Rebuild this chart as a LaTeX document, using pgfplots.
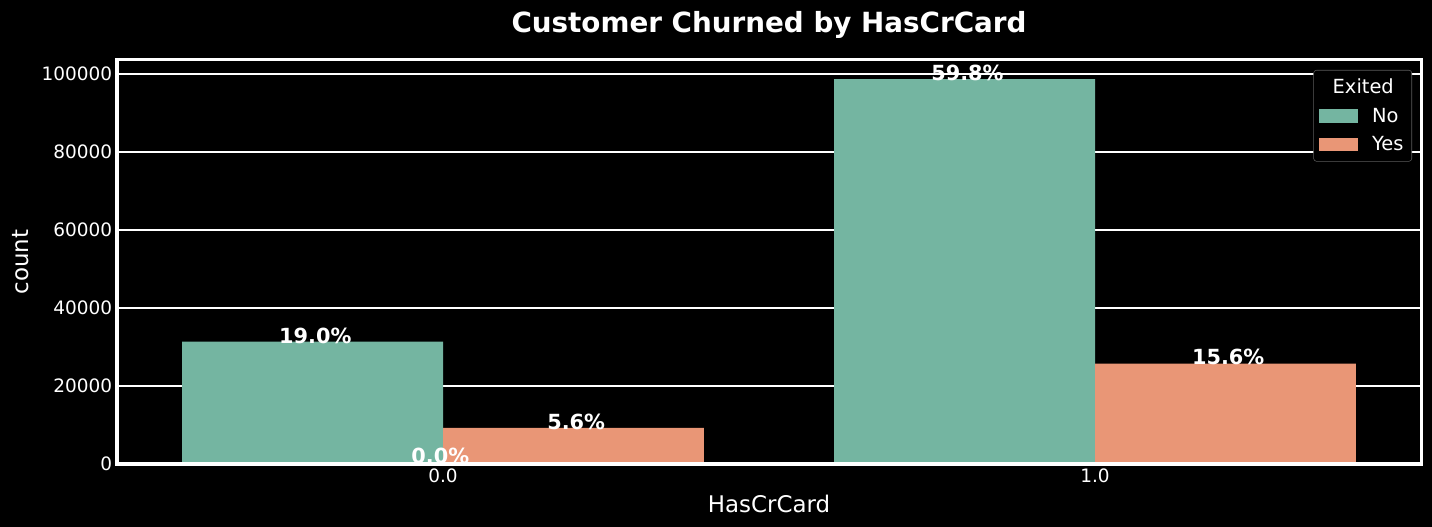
\documentclass[border=0pt]{standalone}
\usepackage{pgfplots}
\pgfplotsset{compat=1.18}
\usepackage{fontspec}
\setmainfont{DejaVu Sans}
\definecolor{setgreen}{HTML}{74B5A1}
\definecolor{setorange}{HTML}{E99676}
\definecolor{legframe}{HTML}{5A5A5A}

\begin{document}
\begin{tikzpicture}
% black page, sized like the reference (1px = 0.72pt)
\path[use as bounding box, fill=black] (-84.24pt,-45.36pt) rectangle (946.8pt,334.08pt);
\begin{axis}[
    scale only axis,
    width=938.9pt, height=290.9pt,
    xmin=-0.5, xmax=1.5,
    ymin=0, ymax=103600,
    xtick={0,1}, xticklabels={0.0,1.0},
    ytick={0,20000,40000,60000,80000,100000},
    scaled y ticks=false,
    /pgf/number format/fixed,
    /pgf/number format/1000 sep={},
    /pgf/number format/assume math mode=true,
    tick label style={font=\fontsize{13.3}{15}\selectfont, text=white},
    major tick length=0pt,
    ymajorgrids,
    grid style={white, line width=0.8pt},
    axis line style={white, line width=2.2pt},
    ybar, bar width=0.4,
    title={Customer Churned by HasCrCard},
    title style={font=\bfseries\fontsize{20}{24}\selectfont, text=white,
        at={(0.5,1)}, anchor=base, yshift=13.6pt},
    xlabel={HasCrCard}, ylabel={count},
    label style={font=\fontsize{16.5}{20}\selectfont, text=white},
    xlabel style={at={(axis description cs:0.5,0)}, anchor=base, yshift=-34.6pt},
    ylabel style={at={(axis description cs:-0.0682,0.5)}, anchor=base},
    nodes near coords,
    point meta=explicit symbolic,
    every node near coord/.append style={font=\bfseries\fontsize{15}{17}\selectfont,
        text=white, anchor=base, inner sep=0pt, yshift=-1pt, xshift=2pt},
    legend style={at={(1,1)}, anchor=north east, xshift=-6.5pt, yshift=-7.2pt,
        fill=black, draw=legframe, rounded corners=2pt, text=white,
        inner xsep=4pt, inner ysep=4pt,
        font=\fontsize{14}{16}\selectfont, row sep=5pt,
        /tikz/every odd column/.append style={column sep=8pt}},
    legend cell align=left,
    legend image code/.code={\fill[#1, sharp corners] (0pt,-4.8pt) rectangle (28pt,4.8pt);},
]
\addlegendimage{empty legend}
\addlegendentry{\hspace{-28.3pt}Exited}
\addplot[fill=setgreen, draw=none, bar shift=-0.2] coordinates {
    (0,31356) [19.0\%]
    (1,98690) [59.8\%]
};
\addlegendentry{No}
\addplot[fill=setorange, draw=none, bar shift=0.2] coordinates {
    (0,9242) [5.6\%]
    (1,25745) [15.6\%]
};
\addlegendentry{Yes}
\draw[white, line width=2.2pt] (rel axis cs:0,0) rectangle (rel axis cs:1,1);
\node[anchor=base, inner sep=0pt, text=white, font=\bfseries\fontsize{15}{17}\selectfont,
    xshift=-2pt] at (axis cs:0,0) {0.0\%};
\end{axis}
\end{tikzpicture}
\end{document}
